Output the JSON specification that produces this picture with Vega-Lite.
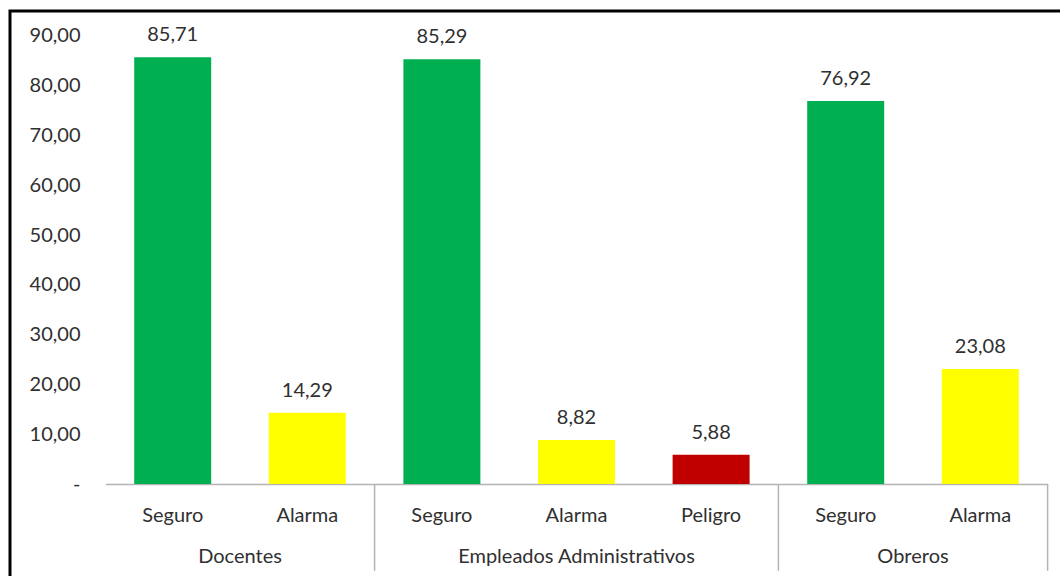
{
  "$schema": "https://vega.github.io/schema/vega-lite/v6.json",
  "width": 1050,
  "height": 565,
  "autosize": {"type": "none"},
  "padding": {"left": 10, "top": 11, "right": 0, "bottom": 0},
  "background": "#ffffff",
  "config": {
    "font": "Lato",
    "view": {"stroke": "#000000", "strokeWidth": 3, "strokeDash": [1050, 1615, 565], "strokeCap": "square"},
    "axis": {"labelFont": "Lato", "labelFontSize": 20, "labelColor": "#303030"},
    "text": {"font": "Lato"}
  },
  "data": {
    "values": [
      {"group": "Docentes", "level": "Seguro", "value": 85.71},
      {"group": "Docentes", "level": "Alarma", "value": 14.29},
      {"group": "Empleados Administrativos", "level": "Seguro", "value": 85.29},
      {"group": "Empleados Administrativos", "level": "Alarma", "value": 8.82},
      {"group": "Empleados Administrativos", "level": "Peligro", "value": 5.88},
      {"group": "Obreros", "level": "Seguro", "value": 76.92},
      {"group": "Obreros", "level": "Alarma", "value": 23.08}
    ]
  },
  "transform": [
    {"calculate": "datum.group + '|' + datum.level", "as": "key"},
    {"calculate": "replace(format(datum.value, '.2f'), '.', ',')", "as": "label"},
    {"window": [{"op": "row_number", "as": "r"}]}
  ],
  "layer": [
    {
      "layer": [
        {
          "mark": {"type": "bar", "width": {"band": 0.572}},
          "encoding": {
            "x": {
              "field": "key", "type": "nominal", "sort": null,
              "scale": {
                "domain": ["Docentes|Seguro", "Docentes|Alarma", "Empleados Administrativos|Seguro", "Empleados Administrativos|Alarma", "Empleados Administrativos|Peligro", "Obreros|Seguro", "Obreros|Alarma"],
                "range": [95.4, 1037.6], "paddingInner": 0, "paddingOuter": 0, "round": false
              },
              "axis": {
                "orient": "bottom", "offset": -92, "title": null, "labelAngle": 0,
                "labelExpr": "split(datum.label, '|')[1]",
                "ticks": false, "tickSize": 0, "labelPadding": 37, "labelBaseline": "alphabetic",
                "domainColor": "#b4b4b4", "domainWidth": 1.5, "grid": false
              }
            },
            "y": {
              "field": "value", "type": "quantitative",
              "scale": {"domain": [0, 90], "range": [473, 24.8], "nice": false, "zero": false},
              "axis": {
                "values": [0, 10, 20, 30, 40, 50, 60, 70, 80, 90],
                "labelExpr": "datum.value == 0 ? '-\u00a0\u00a0\u00a0' : replace(format(datum.value, '.2f'), '.', ',')",
                "offset": -70, "labelPadding": 0, "ticks": false, "tickSize": 0,
                "domain": false, "grid": false, "title": null,
                "labelFlush": false, "labelOverlap": false, "labelBaseline": "middle"
              }
            },
            "color": {
              "field": "level", "type": "nominal",
              "scale": {"domain": ["Seguro", "Alarma", "Peligro"], "range": ["#00B050", "#FFFF00", "#C00000"]},
              "legend": null
            }
          }
        },
        {
          "mark": {"type": "text", "baseline": "alphabetic", "dy": -16, "fontSize": 20, "color": "#303030"},
          "encoding": {
            "x": {"field": "key", "type": "nominal", "sort": null},
            "y": {"field": "value", "type": "quantitative"},
            "text": {"field": "label"}
          }
        },
        {
          "transform": [
            {"window": [{"op": "count", "as": "n"}, {"op": "row_number", "as": "gr"}], "groupby": ["group"], "frame": [null, null]},
            {"filter": "datum.gr == datum.n"}
          ],
          "mark": {"type": "rule", "color": "#b4b4b4", "strokeWidth": 1.5},
          "encoding": {
            "x": {"field": "key", "type": "nominal", "sort": null, "bandPosition": 1},
            "y": {"datum": 0, "type": "quantitative"},
            "y2": {"datum": -17.44}
          }
        }
      ]
    },
    {
      "transform": [
        {"aggregate": [{"op": "mean", "field": "r", "as": "cx"}], "groupby": ["group"]}
      ],
      "mark": {"type": "text", "baseline": "alphabetic", "fontSize": 20, "color": "#303030"},
      "encoding": {
        "x": {
          "field": "cx", "type": "quantitative",
          "scale": {"domain": [0.5, 7.5], "range": [95.4, 1037.6], "nice": false, "zero": false},
          "axis": null
        },
        "y": {"datum": -15.84, "type": "quantitative"},
        "text": {"field": "group"}
      }
    }
  ],
  "resolve": {"scale": {"x": "independent"}}
}
